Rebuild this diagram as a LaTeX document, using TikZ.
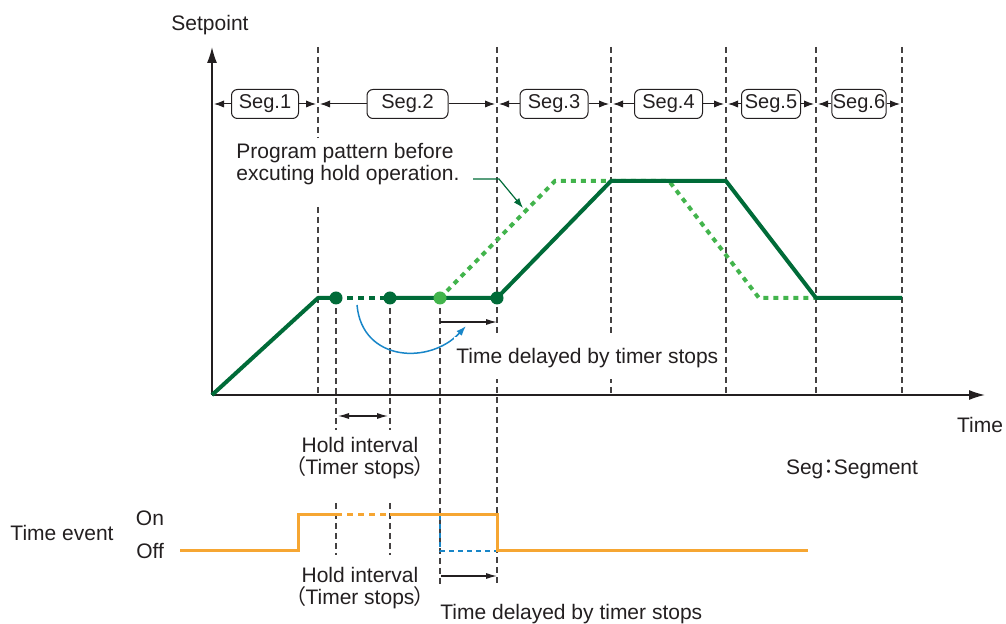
\documentclass[tikz,border=0pt]{standalone}
\usepackage{fontspec}
\setmainfont{Liberation Sans}
\newfontfamily\cjk[RawFeature=+palt]{Noto Sans CJK JP}
\usepackage{tikz}
\usetikzlibrary{arrows.meta,positioning}
\definecolor{darkgreen}{RGB}{0,107,56}
\definecolor{lightgreen}{RGB}{66,180,76}
\definecolor{eventorange}{RGB}{246,166,50}
\definecolor{delayblue}{RGB}{24,134,200}
\definecolor{ink}{RGB}{35,31,32}

\begin{document}
\begin{tikzpicture}[x=0.5pt, y=-0.5pt, font=\fontsize{10.5}{11}\selectfont, text=ink,
  axis/.style={draw=ink, line width=0.7pt, -{Latex[length=8pt,width=5pt]}},
  guide/.style={draw=ink!85, line width=0.65pt, dash pattern=on 3pt off 2pt},
  segbox/.style={draw=ink, line width=0.5pt, rounded corners=3pt, minimum height=14.5pt,
    inner xsep=0.5pt, inner ysep=0pt, font=\fontsize{10}{12}\selectfont},
  segarrow/.style={draw=ink, line width=0.5pt, -{Latex[length=5pt,width=3.6pt]}},
  spline/.style={draw=darkgreen, line width=2pt, line join=round},
  oldline/.style={draw=lightgreen, line width=2pt, dash pattern=on 2.5pt off 2.5pt},
  dot/.style={circle, inner sep=0pt, minimum size=6.5pt},
  dimarrow/.style={draw=ink, line width=0.6pt, -{Latex[length=5.5pt,width=3pt]}},
  eventline/.style={draw=eventorange, line width=1.5pt, line join=miter},
  note/.style={inner sep=0pt, align=center}]
  \useasboundingbox (0,0) rectangle (1006,624);

  % guide lines
  \foreach \gx in {611,726,816,902}
    \draw[guide] (\gx,47) -- (\gx,395);
  \draw[guide] (318,47) -- (318,138);
  \draw[guide] (318,207) -- (318,395);
  \draw[guide] (497,47) -- (497,585);
  \draw[guide] (440,298) -- (440,585);
  \foreach \gx in {336,390} {
    \draw[guide] (\gx,298) -- (\gx,430);
    \draw[guide] (\gx,503) -- (\gx,555);
  }

  % axes
  \coordinate (O) at (212,395);
  \draw[axis] (O) -- (212,47);
  \draw[axis] (O) -- (985,395);
  \node (setpoint) at (210,25) {Setpoint};
  \node (time) at (980,425) {Time};

  % segments
  \foreach \a/\b/\n/\w in {212/318/1/67, 318/497/2/81, 497/611/3/68, 611/726/4/68, 726/816/5/59, 816/902/6/54} {
    \node[segbox, minimum width={\w*0.5pt}] (seg\n) at ({(\a+\b)/2},104) {Seg.\n};
    \draw[segarrow] (seg\n.west) -- ({\a+2},104);
    \draw[segarrow] (seg\n.east) -- ({\b-2},104);
  }

  % program patterns
  \coordinate (h1) at (336,298);
  \coordinate (h2) at (390,298);
  \coordinate (h3) at (440,298);
  \coordinate (h4) at (497,298);
  \draw[oldline] (h3) -- (555,181) -- (669,181) -- (759,298) -- (816,298);
  \draw[spline] (O) -- (318,298) -- (h1);
  \draw[spline, dash pattern=on 3pt off 2.5pt] (h1) -- (h2);
  \draw[spline] (h2) -- (h4) -- (611,181) -- (726,181) -- (816,298) -- (902,298);
  \node[dot, fill=darkgreen] at (h1) {};
  \node[dot, fill=darkgreen] at (h2) {};
  \node[dot, fill=lightgreen] at (h3) {};
  \node[dot, fill=darkgreen] at (h4) {};

  \node[note, align=left, anchor=west] (prog) at (236,164) {Program pattern before\\excuting hold operation.};
  \coordinate (progstart) at (473,179);
  \coordinate (progknee) at (499,179);
  \coordinate (progtip) at (523,208);
  \draw[draw=darkgreen, line width=0.6pt, -{Latex[length=5pt,width=3.5pt]}] (progstart) -- (progknee) -- (progtip);

  \coordinate (bluestart) at (357,305);
  \coordinate (bluetip) at (466,326);
  \draw[draw=delayblue, line width=0.75pt, -{Latex[length=5pt,width=3.5pt]}]
    (bluestart) .. controls (362,362) and (430,365) .. (bluetip);

  \draw[dimarrow] (440,322) -- (497,322);
  \node[note, anchor=west, fill=white, inner xsep=1pt, inner ysep=5.5pt] (delay) at (454,358) {Time delayed by timer stops};

  \draw[dimarrow, {Latex[length=5.5pt,width=3pt]}-{Latex[length=5.5pt,width=3pt]}] (338,416) -- (388,416);
  \node[note] (hold) at (360,458) {Hold interval\\{\cjk （}Timer stops{\cjk ）}};

  \node (legend) at (852,469) {Seg{\cjk ：}Segment};

  % time event
  \node (event) at (62,533) {Time event};
  \node[anchor=east] (on) at (171,518) {On};
  \node[anchor=east] (off) at (171,551) {Off};
  \draw[draw=delayblue, line width=1.2pt, dash pattern=on 2.5pt off 2pt] (440,515) -- (440,551) -- (497,551);
  \draw[eventline] (180,551) -- (298,551) -- (298,515) -- (336,515);
  \draw[eventline, dash pattern=on 3pt off 2.5pt] (336,515) -- (390,515);
  \draw[eventline] (390,515) -- (497,515) -- (497,551) -- (808,551);

  \node[note] (hold2) at (360,588) {Hold interval\\{\cjk （}Timer stops{\cjk ）}};
  \draw[dimarrow] (441,576) -- (497,576);
  \node[note, anchor=west] (delay2) at (440,614) {Time delayed by timer stops};
\end{tikzpicture}
\end{document}
